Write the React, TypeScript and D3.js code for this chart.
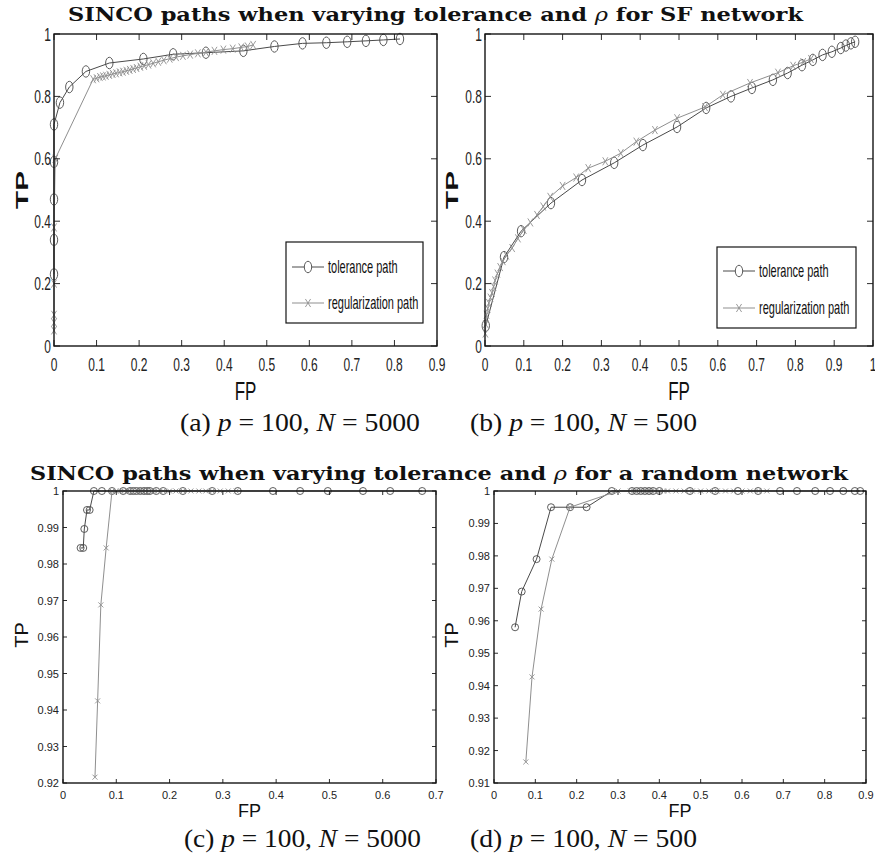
import React, { useRef, useEffect } from 'react';
import * as d3 from 'd3';

const W = 875;
const H = 858;

// (a) SF network, p=100, N=5000
const aTolerance = [
  [0, 0.23], [0, 0.34], [0, 0.47], [0, 0.59], [0, 0.71], [0.014, 0.78], [0.036, 0.83], [0.075, 0.88],
  [0.13, 0.907], [0.21, 0.92], [0.28, 0.935], [0.357, 0.94], [0.445, 0.946], [0.518, 0.96], [0.584, 0.97],
  [0.64, 0.972], [0.689, 0.975], [0.733, 0.978], [0.774, 0.981], [0.813, 0.984],
];
const aRegularization = [
  [0, 0.05], [0, 0.075], [0, 0.1], [0, 0.2], [0, 0.38], [0.003, 0.6], [0.092, 0.855],
  [0.1, 0.858], [0.108, 0.862], [0.115, 0.864], [0.122, 0.866], [0.13, 0.869], [0.138, 0.872], [0.146, 0.874],
  [0.154, 0.877], [0.162, 0.879], [0.17, 0.882], [0.178, 0.885], [0.186, 0.888], [0.194, 0.891], [0.203, 0.895],
  [0.212, 0.898], [0.222, 0.902], [0.233, 0.906], [0.245, 0.911], [0.258, 0.916], [0.272, 0.921], [0.287, 0.926],
  [0.303, 0.93], [0.32, 0.934], [0.338, 0.938], [0.357, 0.942], [0.377, 0.946], [0.398, 0.95], [0.42, 0.953],
  [0.44, 0.957], [0.455, 0.96], [0.468, 0.965],
];

// (b) SF network, p=100, N=500
const bTolerance = [
  [0.002, 0.065], [0.049, 0.285], [0.093, 0.368], [0.17, 0.458], [0.25, 0.532], [0.333, 0.587], [0.407, 0.644],
  [0.495, 0.702], [0.57, 0.763], [0.634, 0.8], [0.688, 0.827], [0.742, 0.853], [0.78, 0.875], [0.817, 0.9],
  [0.845, 0.917], [0.87, 0.933], [0.894, 0.943], [0.917, 0.955], [0.93, 0.963], [0.943, 0.97], [0.954, 0.975],
];
const bRegularization = [
  [0.001, 0.04], [0.002, 0.07], [0.004, 0.1], [0.007, 0.12], [0.01, 0.138], [0.014, 0.155], [0.018, 0.17],
  [0.022, 0.19], [0.026, 0.21], [0.032, 0.232], [0.039, 0.253], [0.046, 0.272], [0.055, 0.29], [0.07, 0.314],
  [0.085, 0.345], [0.1, 0.372], [0.117, 0.396], [0.134, 0.42], [0.15, 0.447], [0.168, 0.478], [0.2, 0.513],
  [0.235, 0.54], [0.266, 0.57], [0.31, 0.592], [0.35, 0.618], [0.39, 0.655], [0.438, 0.692], [0.495, 0.73],
  [0.567, 0.766], [0.613, 0.805], [0.683, 0.843], [0.755, 0.876], [0.794, 0.898], [0.82, 0.91], [0.84, 0.92],
];

// (c) random network, p=100, N=5000
const cTolerance = [
  [0.033, 0.9844], [0.038, 0.9844], [0.04, 0.9896], [0.045, 0.9948], [0.05, 0.9948], [0.058, 1], [0.073, 1],
  [0.092, 1], [0.113, 1], [0.126, 1], [0.132, 1], [0.138, 1], [0.145, 1], [0.152, 1], [0.158, 1], [0.163, 1],
  [0.175, 1], [0.188, 1], [0.225, 1], [0.28, 1], [0.328, 1], [0.394, 1], [0.445, 1], [0.497, 1], [0.563, 1],
  [0.614, 1], [0.674, 1],
];
const cRegularization = [
  [0.06, 0.9216], [0.065, 0.9425], [0.071, 0.9688], [0.081, 0.9844], [0.092, 1], [0.1, 1], [0.108, 1],
  [0.115, 1], [0.12, 1], [0.125, 1], [0.13, 1], [0.135, 1], [0.14, 1], [0.145, 1], [0.15, 1], [0.156, 1],
  [0.162, 1], [0.17, 1], [0.178, 1], [0.188, 1], [0.2, 1], [0.212, 1], [0.225, 1], [0.24, 1], [0.255, 1],
  [0.268, 1], [0.28, 1], [0.295, 1], [0.31, 1], [0.325, 1],
];

// (d) random network, p=100, N=500
const dTolerance = [
  [0.051, 0.958], [0.067, 0.969], [0.103, 0.979], [0.138, 0.995], [0.184, 0.995], [0.224, 0.995], [0.285, 1],
  [0.334, 1], [0.345, 1], [0.355, 1], [0.365, 1], [0.375, 1], [0.385, 1], [0.4, 1], [0.474, 1], [0.535, 1],
  [0.59, 1], [0.639, 1], [0.692, 1], [0.733, 1], [0.777, 1], [0.813, 1], [0.845, 1], [0.873, 1], [0.886, 1],
];
const dRegularization = [
  [0.077, 0.9165], [0.092, 0.9427], [0.114, 0.9636], [0.14, 0.979], [0.184, 0.995], [0.3, 1], [0.33, 1],
  [0.34, 1], [0.35, 1], [0.36, 1], [0.37, 1], [0.38, 1], [0.39, 1], [0.4, 1], [0.41, 1], [0.42, 1], [0.44, 1],
  [0.46, 1], [0.48, 1], [0.5, 1], [0.52, 1], [0.54, 1], [0.56, 1], [0.58, 1], [0.6, 1], [0.62, 1], [0.64, 1],
  [0.66, 1],
];

// tick values
const topYTicks = [0, 0.2, 0.4, 0.6, 0.8, 1];
const aXTicks = [0, 0.1, 0.2, 0.3, 0.4, 0.5, 0.6, 0.7, 0.8, 0.9];
const bXTicks = [0, 0.1, 0.2, 0.3, 0.4, 0.5, 0.6, 0.7, 0.8, 0.9, 1];
const cXTicks = [0, 0.1, 0.2, 0.3, 0.4, 0.5, 0.6, 0.7];
const cYTicks = [0.92, 0.93, 0.94, 0.95, 0.96, 0.97, 0.98, 0.99, 1];
const dXTicks = [0, 0.1, 0.2, 0.3, 0.4, 0.5, 0.6, 0.7, 0.8, 0.9];
const dYTicks = [0.91, 0.92, 0.93, 0.94, 0.95, 0.96, 0.97, 0.98, 0.99, 1];

const legendLabels = ['tolerance path', 'regularization path'];
const captions = [
  ['(a)', '100', '5000'],
  ['(b)', '100', '500'],
  ['(c)', '100', '5000'],
  ['(d)', '100', '500'],
];

const TOL = '#4a4a4a';
const REG = '#8f8f8f';
const AX = '#151515';
const fmt = (d: number) => String(+d.toFixed(2));

function drawPanel(svg: any, p: any) {
  const x = d3.scaleLinear().domain(p.xDomain).range([p.left, p.right]);
  const y = d3.scaleLinear().domain(p.yDomain).range([p.bottom, p.top]);
  const sy = p.sy;
  const g = svg.append('g');
  const line = d3.line<number[]>().x(d => x(d[0])).y(d => y(d[1]));

  // tolerance path
  g.append('path').datum(p.tol).attr('d', line).attr('fill', 'none').attr('stroke', TOL).attr('stroke-width', 1);
  g.selectAll('.tolm').data(p.tol).enter().append('ellipse')
    .attr('cx', (d: number[]) => x(d[0])).attr('cy', (d: number[]) => y(d[1]))
    .attr('rx', p.ms).attr('ry', p.ms * sy)
    .attr('fill', 'none').attr('stroke', TOL).attr('stroke-width', 0.9);

  // regularization path
  g.append('path').datum(p.reg).attr('d', line).attr('fill', 'none').attr('stroke', REG).attr('stroke-width', 1);
  const s = p.xs;
  g.selectAll('.regm').data(p.reg).enter().append('path')
    .attr('d', (d: number[]) => {
      const cx = x(d[0]), cy = y(d[1]);
      return `M${cx - s},${cy - s * sy}L${cx + s},${cy + s * sy}M${cx - s},${cy + s * sy}L${cx + s},${cy - s * sy}`;
    })
    .attr('fill', 'none').attr('stroke', REG).attr('stroke-width', 0.9);

  // box
  g.append('rect').attr('x', p.left).attr('y', p.top)
    .attr('width', p.right - p.left).attr('height', p.bottom - p.top)
    .attr('fill', 'none').attr('stroke', AX).attr('stroke-width', 1.4);

  const tl = p.tickLen;
  p.xTicks.forEach((t: number) => {
    const px = x(t);
    g.append('line').attr('x1', px).attr('x2', px).attr('y1', p.bottom).attr('y2', p.bottom - tl).attr('stroke', AX).attr('stroke-width', 0.9);
    g.append('line').attr('x1', px).attr('x2', px).attr('y1', p.top).attr('y2', p.top + tl).attr('stroke', AX).attr('stroke-width', 0.9);
    g.append('text')
      .attr('transform', `translate(${px},${p.bottom + p.xLabOff}) scale(1,${sy})`)
      .attr('text-anchor', 'middle').attr('dominant-baseline', 'central')
      .attr('font-family', 'Liberation Sans, Arial, sans-serif').attr('font-size', p.tickFont)
      .attr('fill', '#222').text(fmt(t));
  });
  p.yTicks.forEach((t: number) => {
    const py = y(t);
    g.append('line').attr('x1', p.left).attr('x2', p.left + tl).attr('y1', py).attr('y2', py).attr('stroke', AX).attr('stroke-width', 0.9);
    g.append('line').attr('x1', p.right).attr('x2', p.right - tl).attr('y1', py).attr('y2', py).attr('stroke', AX).attr('stroke-width', 0.9);
    g.append('text')
      .attr('transform', `translate(${p.left - p.yLabOff},${py}) scale(1,${sy})`)
      .attr('text-anchor', 'end').attr('dominant-baseline', 'central')
      .attr('font-family', 'Liberation Sans, Arial, sans-serif').attr('font-size', p.tickFont)
      .attr('fill', '#222').text(fmt(t));
  });

  // axis labels
  g.append('text')
    .attr('transform', `translate(${(p.left + p.right) / 2},${p.fpY}) scale(1,${sy})`)
    .attr('text-anchor', 'middle')
    .attr('font-family', 'Liberation Sans, Arial, sans-serif').attr('font-size', p.labFont)
    .attr('fill', '#111').text('FP');
  g.append('text')
    .attr('transform', `translate(${p.tpX},${p.tpY}) scale(1,${p.tpScale}) rotate(-90)`)
    .attr('text-anchor', 'middle').attr('dominant-baseline', 'central')
    .attr('font-family', 'Liberation Sans, Arial, sans-serif').attr('font-size', p.labFont)
    .attr('font-weight', p.tpBold ? 'bold' : 'normal')
    .attr('fill', '#111').text('TP');

  // legend
  if (p.legend) {
    const L = p.legend;
    g.append('rect').attr('x', L.x).attr('y', L.y).attr('width', L.w).attr('height', L.h)
      .attr('fill', '#fff').attr('stroke', AX).attr('stroke-width', 1.2);
    legendLabels.forEach((lab, i) => {
      const ly = L.y + L.rows[i];
      const col = i === 0 ? TOL : REG;
      g.append('line').attr('x1', L.x + 6).attr('x2', L.x + 38).attr('y1', ly).attr('y2', ly)
        .attr('stroke', col).attr('stroke-width', 1);
      const mx = L.x + 22;
      if (i === 0) {
        g.append('ellipse').attr('cx', mx).attr('cy', ly).attr('rx', p.ms).attr('ry', p.ms * sy)
          .attr('fill', '#fff').attr('stroke', col).attr('stroke-width', 0.9);
      } else {
        g.append('path')
          .attr('d', `M${mx - s},${ly - s * sy}L${mx + s},${ly + s * sy}M${mx - s},${ly + s * sy}L${mx + s},${ly - s * sy}`)
          .attr('stroke', col).attr('stroke-width', 0.9);
      }
      g.append('text')
        .attr('transform', `translate(${L.x + 42},${ly}) scale(1,${L.textScale})`)
        .attr('dominant-baseline', 'central')
        .attr('font-family', 'Liberation Sans, Arial, sans-serif').attr('font-size', 11)
        .attr('fill', '#111').text(lab);
    });
  }
}

const App = () => {
  const svgRef = useRef<SVGSVGElement>(null);

  useEffect(() => {
    const svg = d3.select(svgRef.current);
    svg.selectAll('*').remove();
    svg.append('rect').attr('width', W).attr('height', H).attr('fill', '#fff');

    const topCommon = {
      top: 34, bottom: 346, yDomain: [0, 1], yTicks: topYTicks, sy: 1.55, ms: 3.7, xs: 2.6,
      tickLen: 6, tickFont: 12, xLabOff: 18, yLabOff: 3, labFont: 17, fpY: 400, tpY: 190,
      tpScale: 1.75, tpBold: true,
    };
    const botCommon = {
      top: 491, bottom: 783, sy: 1, ms: 3.5, xs: 2.5, tickLen: 4, tickFont: 11,
      xLabOff: 12, yLabOff: 4, labFont: 18, fpY: 817, tpY: 635, tpScale: 1.1, tpBold: false,
    };

    drawPanel(svg, {
      ...topCommon, left: 54, right: 437, xDomain: [0, 0.9], xTicks: aXTicks, tol: aTolerance, reg: aRegularization,
      tpX: 22, legend: { x: 286, y: 242, w: 137, h: 81, rows: [25, 61], textScale: 1.6 },
    });
    drawPanel(svg, {
      ...topCommon, left: 485, right: 873, xDomain: [0, 1], xTicks: bXTicks, tol: bTolerance, reg: bRegularization,
      tpX: 452, legend: { x: 717, y: 247, w: 139, h: 81, rows: [24, 61], textScale: 1.6 },
    });
    drawPanel(svg, {
      ...botCommon, left: 63, right: 436, xDomain: [0, 0.7], yDomain: [0.92, 1], xTicks: cXTicks, yTicks: cYTicks,
      tol: cTolerance, reg: cRegularization, tpX: 22,
    });
    drawPanel(svg, {
      ...botCommon, left: 494, right: 866, xDomain: [0, 0.9], yDomain: [0.91, 1], xTicks: dXTicks, yTicks: dYTicks,
      tol: dTolerance, reg: dRegularization, tpX: 452,
    });

    // titles
    const titles = [
      { x: 68, y: 21, len: 735, pre: 'SINCO paths when varying tolerance and ', post: ' for SF network' },
      { x: 30, y: 480, len: 818, pre: 'SINCO paths when varying tolerance and ', post: ' for a random network' },
    ];
    titles.forEach(t => {
      const tx = svg.append('text').attr('x', t.x).attr('y', t.y)
        .attr('textLength', t.len).attr('lengthAdjust', 'spacingAndGlyphs')
        .attr('font-family', 'DejaVu Serif, Liberation Serif, serif').attr('font-size', 19)
        .attr('font-weight', 'bold').attr('fill', '#111');
      tx.append('tspan').text(t.pre);
      tx.append('tspan').attr('font-style', 'italic').attr('font-weight', 'normal').text('ρ');
      tx.append('tspan').text(t.post);
    });

    // captions
    const capPos = [
      { x: 180, y: 431, len: 240 },
      { x: 470, y: 431, len: 227 },
      { x: 184, y: 847, len: 237 },
      { x: 470, y: 847, len: 227 },
    ];
    captions.forEach((c, i) => {
      const cp = capPos[i];
      const tx = svg.append('text').attr('x', cp.x).attr('y', cp.y)
        .attr('textLength', cp.len).attr('lengthAdjust', 'spacingAndGlyphs')
        .attr('font-family', 'Liberation Serif, Times New Roman, serif').attr('font-size', 25)
        .attr('fill', '#111');
      tx.append('tspan').text(c[0] + ' ');
      tx.append('tspan').attr('font-style', 'italic').text('p');
      tx.append('tspan').text(' = ' + c[1] + ', ');
      tx.append('tspan').attr('font-style', 'italic').text('N');
      tx.append('tspan').text(' = ' + c[2]);
    });
  }, []);

  return (
    <div style={{ position: 'absolute', left: 0, top: 0 }}>
      <svg ref={svgRef} width={W} height={H} style={{ display: 'block' }}></svg>
    </div>
  );
};

export default App;
